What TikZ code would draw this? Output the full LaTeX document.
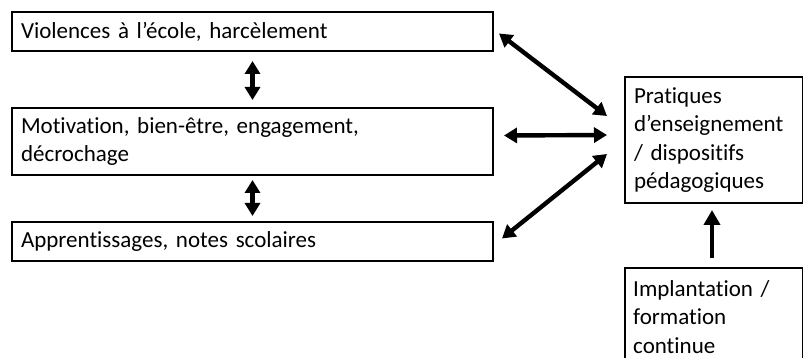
\documentclass[tikz,border=0pt]{standalone}
\usepackage{fontspec}
\setmainfont{Carlito}[Ligatures=NoCommon]
\usetikzlibrary{arrows.meta,calc}
\begin{document}
\begin{tikzpicture}[x=1pt,y=-1pt,
  txt/.style={font=\fontsize{23}{28.5}\selectfont},
  box/.style={draw,line width=2pt,anchor=north west,align=left,
    inner xsep=8pt,inner ysep=0pt,txt},
  arr/.style={line width=4.4pt,{Triangle[length=13pt,width=15pt]}-{Triangle[length=13pt,width=15pt]}},
  oneway/.style={line width=4.5pt,-{Triangle[length=15pt,width=16pt]}}]
\useasboundingbox (0,0) rectangle (803,358);

% outcome boxes on the left
\node[box,minimum width=481pt,minimum height=39pt,text width=463pt] (A) at (11,11)
  {Violences à l’école, harcèlement};
\node[box,minimum width=481pt,minimum height=67pt,text width=463pt] (B) at (11,107)
  {Motivation, bien-être, engagement,\\décrochage};
\node[box,minimum width=481pt,minimum height=39pt,text width=463pt] (C) at (11,221)
  {Apprentissages, notes scolaires};

% teaching practices and training
\node[box,minimum width=178pt,minimum height=126pt,text width=160pt] (P) at (624,76)
  {Pratiques\\d’enseignement\\/ dispositifs\\pédagogiques};
\node[box,minimum width=178pt,minimum height=110pt] (I) at (624,267) {};
\node[anchor=north west,align=left,inner sep=0pt,txt,text width=160pt]
  (It) at ($(I.north west)+(9,13)$) {Implantation /\\formation\\continue};

% links
\draw[arr] ($(A.south)+(0,9)$) -- ($(B.north)+(0,-7)$);
\draw[arr] ($(B.south)+(0,4)$) -- ($(C.north)+(0,-5)$);

\coordinate (pa) at ($(P.west)+(-17,-24)$);
\coordinate (pb) at ($(P.west)+(-17,-5)$);
\coordinate (pc) at ($(P.west)+(-17,14)$);
\draw[arr] ($(A.east)+(5,2)$) -- (pa);
\draw[arr] ($(B.east)+(10,-6)$) -- (pb);
\draw[arr] ($(C.east)+(8,-3)$) -- (pc);

\draw[oneway] ($(I.north)+(-2,-9)$) -- ($(P.south)+(-2,6)$);
\end{tikzpicture}
\end{document}
